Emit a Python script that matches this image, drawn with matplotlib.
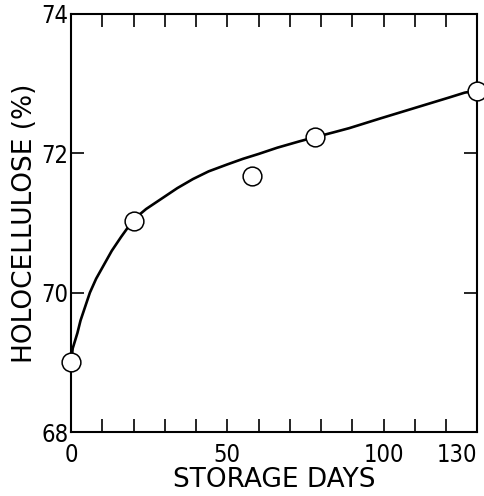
import matplotlib
matplotlib.use("Agg")
import matplotlib.pyplot as plt

# measured points (storage days, holocellulose %)
days = [0, 20, 58, 78, 130]
holo = [69.0, 71.03, 71.68, 72.23, 72.9]

# fitted curve
curve_days = [0, 0.5, 2, 3, 4.5, 6, 8, 10.5, 13, 16, 20, 24, 29, 34, 39, 44, 50, 55,
              60, 66, 73, 78, 84, 89, 99, 110, 121, 126, 130]
curve_holo = [69.0, 69.2, 69.42, 69.6, 69.8, 70.0, 70.2, 70.4, 70.6, 70.8, 71.05,
              71.2, 71.35, 71.5, 71.63, 71.74, 71.84, 71.92, 71.99, 72.08, 72.17,
              72.23, 72.3, 72.36, 72.5, 72.65, 72.8, 72.87, 72.9]

x_ticks = list(range(0, 131, 10))
x_labels = ["0", "", "", "", "", "50", "", "", "", "", "100", "", "", "130"]
y_ticks = [68, 70, 72, 74]

plt.rcParams["font.family"] = ["DejaVu Sans"]
plt.rcParams["font.stretch"] = "condensed"

fig = plt.figure(figsize=(4.84, 4.96), dpi=100)
ax = fig.add_axes([0.147, 0.129, 0.839, 0.843])

ax.plot(curve_days, curve_holo, color="black", linewidth=1.9, zorder=2)
ax.plot(days, holo, linestyle="none", marker="o", markersize=13.5,
        markerfacecolor="white", markeredgecolor="black", markeredgewidth=1.1,
        zorder=3, clip_on=False)

ax.set_xlim(0, 130)
ax.set_ylim(68, 74)
ax.set_xticks(x_ticks)
ax.set_xticklabels(x_labels)
ax.set_yticks(y_ticks)

ax.tick_params(axis="both", direction="in", length=9.5, width=1.2,
               top=True, right=True, labelsize=17)
ax.tick_params(axis="x", pad=8)
ax.tick_params(axis="y", pad=2)
# last label sits flush with the right frame
ax.get_xticklabels()[-1].set_horizontalalignment("right")
for spine in ax.spines.values():
    spine.set_linewidth(1.5)

ax.set_xlabel("STORAGE DAYS", fontsize=19, fontstretch="normal", labelpad=0)
ax.set_ylabel("HOLOCELLULOSE (%)", fontsize=19, fontstretch="normal", labelpad=2)

fig.savefig("out.png", dpi=100)
